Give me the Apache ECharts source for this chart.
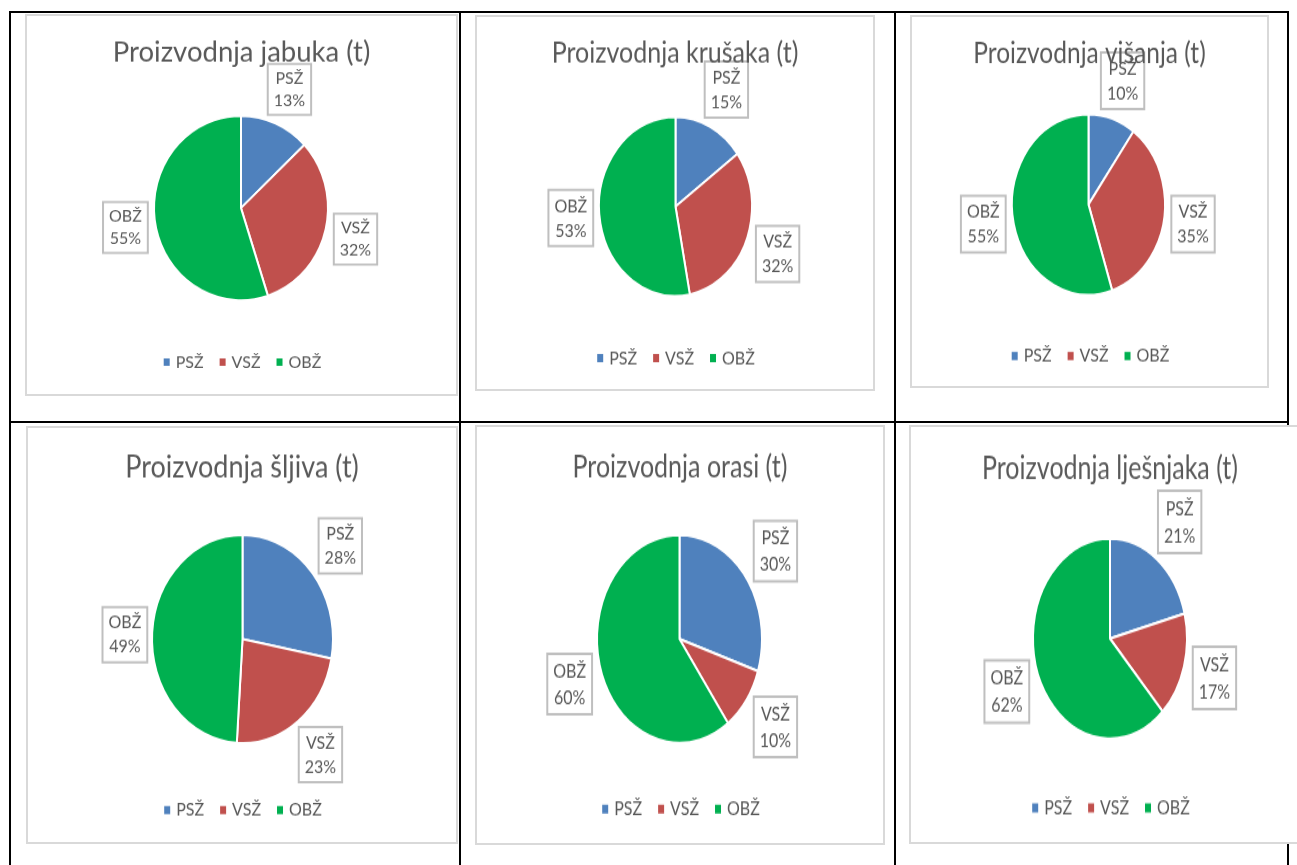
<!DOCTYPE html>
<html>
<head>
<meta charset="utf-8">
<script src="https://cdn.jsdelivr.net/npm/echarts@6.0.0/dist/echarts.min.js"></script>
<style>
    html, body { margin: 0; padding: 0; background: #fff; width: 1297px; height: 865px; overflow: hidden; position: relative; }
    .cell { position: absolute; border: 2px solid #000; box-sizing: border-box; }
    .chart { position: absolute; border: 2px solid #d9d9d9; box-sizing: border-box; background: #fff; overflow: hidden; }
    .inner { position: absolute; left: 0; top: 0; transform-origin: 0 0; }
</style>
</head>
<body>
<script>
// Podaci (udio u %)
const categories = ['PSŽ', 'VSŽ', 'OBŽ'];
const chartTitles = [
    'Proizvodnja jabuka (t)',
    'Proizvodnja krušaka (t)',
    'Proizvodnja višanja (t)',
    'Proizvodnja šljiva (t)',
    'Proizvodnja orasi (t)',
    'Proizvodnja lješnjaka (t)'
];
const jabuka = [13, 32, 55];
const krusaka = [15, 32, 53];
const visanja = [10, 35, 55];
const sljiva = [28, 23, 49];
const orasi = [30, 10, 60];
const ljesnjaka = [21, 17, 62];
const allValues = [jabuka, krusaka, visanja, sljiva, orasi, ljesnjaka];

const colors = ['#4f81bd', '#c0504d', '#00b050'];

// Raspored: okvir, središte pite, vodoravni polumjer, vertikalno rastezanje (k)
const boxes = [
    { left: 25, top: 14, width: 433, height: 382, center: [214, 192], r: 87, k: 1.06, titleY: 36, legendY: 346, fs: 27.5 },
    { left: 475, top: 15, width: 400, height: 376, center: [198.5, 189.5], r: 76.5, k: 1.17, titleY: 36, legendY: 341, fs: 25 },
    { left: 910, top: 15, width: 359, height: 373, center: [176.5, 187.5], r: 76.5, k: 1.18, titleY: 36, legendY: 339, fs: 24.5 },
    { left: 26, top: 426, width: 432, height: 418, center: [214.5, 211], r: 90.5, k: 1.15, titleY: 39, legendY: 382, fs: 27 },
    { left: 475, top: 425, width: 410, height: 420, center: [202.5, 212], r: 82.5, k: 1.26, titleY: 40, legendY: 382, fs: 25 },
    { left: 909, top: 425, width: 402, height: 419, center: [199, 211.5], r: 77, k: 1.3, titleY: 41, legendY: 381, fs: 25 }
];

// Crne linije tablice
const colEdges = [10, 460, 895, 1288];
const rowEdges = [12, 422, 880];
for (let i = 0; i < rowEdges.length - 1; i++) {
    for (let j = 0; j < colEdges.length - 1; j++) {
        const c = document.createElement('div');
        c.className = 'cell';
        c.style.left = (colEdges[j] - 1) + 'px';
        c.style.top = (rowEdges[i] - 1) + 'px';
        c.style.width = (colEdges[j + 1] - colEdges[j] + 2) + 'px';
        c.style.height = (rowEdges[i + 1] - rowEdges[i] + 2) + 'px';
        document.body.appendChild(c);
    }
}

function buildChart(idx) {
    const box = boxes[idx];
    const values = allValues[idx];
    const total = values.reduce((a, b) => a + b, 0);
    const k = box.k;

    const el = document.createElement('div');
    el.className = 'chart';
    el.style.left = box.left + 'px';
    el.style.top = box.top + 'px';
    el.style.width = box.width + 'px';
    el.style.height = box.height + 'px';
    document.body.appendChild(el);

    // slika je u izvorniku razvučena okomito, pa se crta niže i rasteže
    const inner = document.createElement('div');
    inner.className = 'inner';
    inner.style.width = (box.width - 4) + 'px';
    inner.style.height = ((box.height - 4) / k) + 'px';
    inner.style.transform = 'scaleY(' + k + ')';
    el.appendChild(inner);

    const chart = echarts.init(inner);
    const font = 'Lato';
    const cx = box.center[0];
    const cy = box.center[1] / k;

    chart.setOption({
        animation: false,
        color: colors,
        title: {
            text: chartTitles[idx],
            left: 'center',
            top: box.titleY / k - box.fs / 2,
            padding: 0,
            textStyle: { color: '#595959', fontSize: box.fs, fontWeight: 'normal', fontFamily: font }
        },
        legend: {
            data: categories,
            left: 'center',
            top: box.legendY / k - 8,
            padding: 0,
            icon: 'rect',
            itemWidth: 8,
            itemHeight: 9,
            itemGap: 14,
            textStyle: { color: '#595959', fontSize: 16, fontFamily: font }
        },
        series: [{
            type: 'pie',
            center: [cx, cy],
            radius: box.r,
            startAngle: 90,
            clockwise: true,
            avoidLabelOverlap: false,
            itemStyle: { borderColor: '#fff', borderWidth: 2 },
            emphasis: { disabled: true },
            label: {
                show: true,
                position: 'outside',
                formatter: '{b}\n{d}%',
                color: '#595959',
                fontSize: 16,
                fontFamily: font,
                lineHeight: 21,
                backgroundColor: '#fff',
                borderColor: '#bfbfbf',
                borderWidth: 2,
                padding: [2, 5]
            },
            labelLine: { show: false },
            // oznaka odmah izvan ruba isječka, u smjeru sredine isječka
            labelLayout: function (params) {
                let before = 0;
                for (let n = 0; n < params.dataIndex; n++) before += values[n];
                const theta = (before + values[params.dataIndex] / 2) / total * 2 * Math.PI;
                const sx = Math.sin(theta);
                const sy = -Math.cos(theta);
                const hw = params.labelRect.width / 2;
                const hh = params.labelRect.height / 2;
                const dist = box.r + 3 + Math.abs(sx) * hw + Math.abs(sy) * hh;
                return {
                    x: cx + sx * dist,
                    y: cy + sy * dist,
                    align: 'center',
                    verticalAlign: 'middle'
                };
            },
            data: categories.map((name, i) => ({ name: name, value: values[i] }))
        }]
    });
    return chart;
}

for (let i = 0; i < allValues.length; i++) buildChart(i);
</script>
</body>
</html>
